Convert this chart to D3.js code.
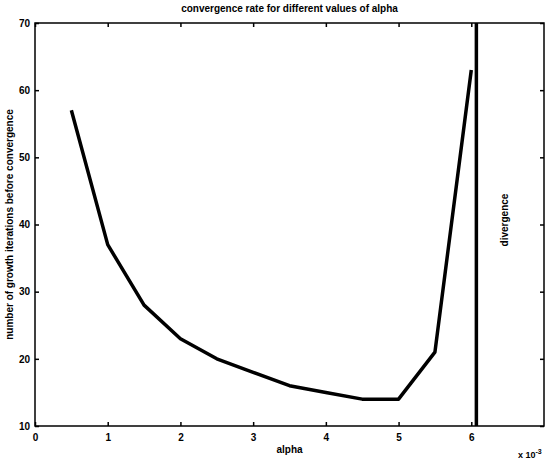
<!DOCTYPE html>
<html>
<head>
<meta charset="utf-8">
<script src="https://cdn.jsdelivr.net/npm/d3@7"></script>
<style>
  body { margin: 0; background: #fff; }
  text { font-family: "Liberation Sans", Arial, sans-serif; font-weight: bold; fill: #000; }
</style>
</head>
<body>
<div id="chart"></div>
<script>
// alpha values (x 10^-3) and iterations before convergence
var alphas = [0.5, 1, 1.5, 2, 2.5, 3, 3.5, 4, 4.5, 5, 5.5, 6];
var iterations = [57, 37, 28, 23, 20, 18, 16, 15, 14, 14, 21, 63];
var divergenceAt = 6.07;
var xTicks = [0, 1, 2, 3, 4, 5, 6];
var yTicks = [10, 20, 30, 40, 50, 60, 70];

var svgWidth = 545, svgHeight = 463;
var margin = {top: 23, right: 1, bottom: 37, left: 35};
var width = svgWidth - margin.left - margin.right;
var height = svgHeight - margin.top - margin.bottom;

var svg = d3.select("#chart").append("svg")
  .attr("width", svgWidth)
  .attr("height", svgHeight);

var g = svg.append("g")
  .attr("transform", `translate(${margin.left}, ${margin.top})`);

var x = d3.scaleLinear().domain([0, 7]).range([0, width]);
var y = d3.scaleLinear().domain([10, 70]).range([height, 0]);

// box
g.append("rect")
  .attr("width", width).attr("height", height)
  .attr("fill", "none").attr("stroke", "#000").attr("stroke-width", 1.5);

// axes with inward ticks
var xAxis = g.append("g")
  .attr("transform", `translate(0, ${height})`)
  .call(d3.axisBottom(x).tickValues(xTicks).tickSize(-4).tickPadding(8).tickFormat(d3.format("d")));
var xTop = g.append("g")
  .call(d3.axisTop(x).tickValues(xTicks).tickSize(-4).tickFormat(""));
var yAxis = g.append("g")
  .call(d3.axisLeft(y).tickValues(yTicks).tickSize(-4).tickPadding(5).tickFormat(d3.format("d")));
var yRight = g.append("g")
  .attr("transform", `translate(${width}, 0)`)
  .call(d3.axisRight(y).tickValues(yTicks).tickSize(-4).tickFormat(""));

[xAxis, xTop, yAxis, yRight].forEach(function(a) {
  a.select(".domain").remove();
  a.selectAll(".tick line").attr("stroke", "#000").attr("stroke-width", 1.5);
  a.selectAll("text").attr("font-size", 10).attr("font-family", "Liberation Sans, Arial, sans-serif").attr("font-weight", "bold");
});

// divergence line
g.append("line")
  .attr("x1", x(divergenceAt)).attr("x2", x(divergenceAt))
  .attr("y1", y(10)).attr("y2", y(70))
  .attr("stroke", "#000").attr("stroke-width", 3.5);

// convergence curve
var line = d3.line()
  .x(function(d, i) { return x(alphas[i]); })
  .y(function(d) { return y(d); });

g.append("path")
  .datum(iterations)
  .attr("d", line)
  .attr("fill", "none")
  .attr("stroke", "#000")
  .attr("stroke-width", 3.5)
  .attr("stroke-linejoin", "round");

// title
svg.append("text")
  .attr("x", margin.left + width / 2)
  .attr("y", 12)
  .attr("text-anchor", "middle")
  .attr("font-size", 10)
  .text("convergence rate for different values of alpha");

// x label
svg.append("text")
  .attr("x", margin.left + width / 2)
  .attr("y", 453)
  .attr("text-anchor", "middle")
  .attr("font-size", 10)
  .text("alpha");

// exponent
var expo = svg.append("text")
  .attr("x", 518)
  .attr("y", 458)
  .attr("font-size", 9)
  .text("x 10");
expo.append("tspan").attr("dy", -4).attr("font-size", 7).text("-3");

// y label
svg.append("text")
  .attr("transform", `translate(13, ${margin.top + height / 2}) rotate(-90)`)
  .attr("text-anchor", "middle")
  .attr("font-size", 10)
  .text("number of growth iterations before convergence");

// divergence label
svg.append("text")
  .attr("transform", `translate(508, 220) rotate(-90)`)
  .attr("text-anchor", "middle")
  .attr("font-size", 10)
  .text("divergence");
</script>
</body>
</html>
